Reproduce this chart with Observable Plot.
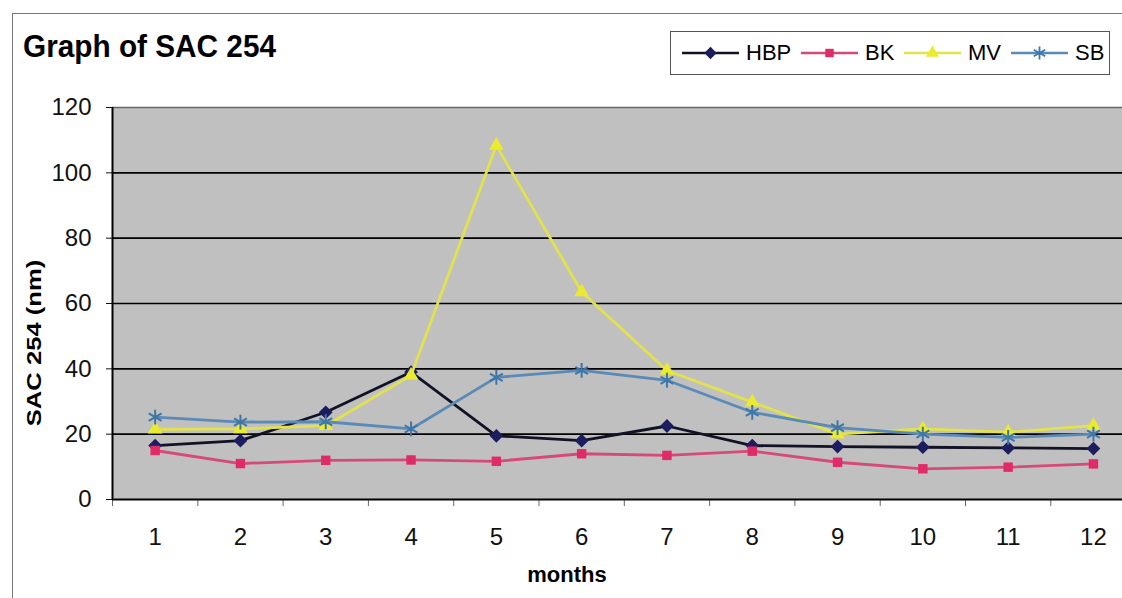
<!DOCTYPE html>
<html>
<head>
<meta charset="utf-8">
<script src="https://cdn.jsdelivr.net/npm/d3@7"></script>
<script src="https://cdn.jsdelivr.net/npm/@observablehq/plot@0.6"></script>
<style>
  html, body { margin: 0; padding: 0; background: #fff; overflow: hidden; }
  #wrap { position: relative; width: 1122px; height: 598px; font-family: "Liberation Sans", Arial, sans-serif; color: #000; }
  #chart { position: absolute; left: 0; top: 0; }
  #border { position: absolute; left: 12px; top: 13px; width: 1200px; height: 700px; border-left: 1.5px solid #777; border-top: 1.5px solid #777; }
  #title { position: absolute; left: 23px; top: 30px; font-size: 32px; line-height: 32px; font-weight: bold; white-space: nowrap; transform: scaleX(0.93); transform-origin: left center; }
  #legend { position: absolute; left: 670px; top: 31px; width: 440px; height: 44px; border: 1.5px solid #555; box-sizing: border-box; background: #fff; }
  .item { position: absolute; top: 0; height: 41px; display: flex; align-items: center; }
  .item span { font-size: 22px; line-height: 22px; margin-left: 7px; }
  #xlabel { position: absolute; left: 467px; width: 200px; text-align: center; top: 564px; font-size: 22px; line-height: 22px; font-weight: bold; }
  #ylabel { position: absolute; left: 34px; top: 343px; font-size: 20px; line-height: 20px; font-weight: bold; white-space: nowrap; transform: translate(-50%, -50%) rotate(-90deg) scaleX(1.28); }
</style>
</head>
<body>
<div id="wrap">
  <div id="border"></div>
  <div id="chart"></div>
  <div id="title">Graph of SAC 254</div>
  <div id="legend"></div>
  <div id="xlabel">months</div>
  <div id="ylabel">SAC 254 (nm)</div>
</div>
<script>
// ---- data ----
const months = [1, 2, 3, 4, 5, 6, 7, 8, 9, 10, 11, 12];
const HBP = [16.5, 18, 26.7, 39, 19.5, 18, 22.5, 16.5, 16.2, 16, 15.8, 15.6];
const BK  = [15, 11, 12, 12.1, 11.7, 14, 13.5, 14.8, 11.4, 9.4, 9.9, 10.9];
const MV  = [21.5, 21.6, 22.6, 38, 108.4, 63.5, 39.5, 29.8, 20, 21.6, 20.6, 22.6];
const SB  = [25.2, 23.7, 23.8, 21.6, 37.4, 39.5, 36.5, 26.7, 22, 20, 19, 20];
const yTicks = [0, 20, 40, 60, 80, 100, 120];
const seriesNames = ["HBP", "BK", "MV", "SB"];

// ---- styles ----
const seriesValues = { HBP, BK, MV, SB };
const styles = {
  HBP: { line: "#121226", marker: "#1c1c5e", symbol: "diamond2", r: 6.2, filled: true },
  BK:  { line: "#d64a78", marker: "#e02a6a", symbol: "square2", r: 6, filled: true },
  MV:  { line: "#e2e24c", marker: "#eaea2e", symbol: "triangle2", r: 7, filled: true },
  SB:  { line: "#5a8ab6", marker: "#3f76a8", symbol: "asterisk", r: 7, filled: false }
};

const rows = seriesNames.flatMap(s => months.map((m, i) => ({ month: m, value: seriesValues[s][i], series: s })));
const boundaries = months.map(m => m - 0.5);

const seriesMarks = seriesNames.flatMap(s => {
  const d = rows.filter(r => r.series === s);
  const st = styles[s];
  return [
    Plot.line(d, { x: "month", y: "value", stroke: st.line, strokeWidth: 2.8 }),
    Plot.dot(d, st.filled
      ? { x: "month", y: "value", symbol: st.symbol, r: st.r, fill: st.marker, stroke: null }
      : { x: "month", y: "value", symbol: st.symbol, r: st.r, fill: "none", stroke: st.marker, strokeWidth: 2 })
  ];
});

const chart = Plot.plot({
  width: 1122,
  height: 598,
  marginTop: 107,
  marginBottom: 99,
  marginLeft: 112,
  marginRight: 0,
  x: { domain: [0.5, 12.5], range: [112, 1135.6] },
  y: { domain: [0, 120] },
  style: { background: "transparent", fontFamily: "Liberation Sans, Arial, sans-serif", color: "#111", overflow: "hidden" },
  marks: [
    Plot.frame({ fill: "#c0c0c0", stroke: null }),
    Plot.ruleY(yTicks.filter(d => d > 0 && d < 120), { stroke: "#000", strokeWidth: 1.7 }),
    Plot.ruleY([120], { stroke: "#666", strokeWidth: 1.5 }),
    Plot.axisY({ ticks: yTicks, tickSize: 6, tickPadding: 15, fontSize: 24, label: null, tickFormat: d => d }),
    Plot.axisX({ ticks: boundaries, tickSize: 7, tickFormat: () => "", label: null, stroke: "#666" }),
    Plot.axisX({ ticks: months, tickSize: 0, tickPadding: 28, fontSize: 24, label: null, tickFormat: d => d }),
    ...seriesMarks,
    Plot.ruleY([0], { stroke: "#000", strokeWidth: 2 }),
    Plot.ruleX([0.5], { stroke: "#000", strokeWidth: 2 })
  ]
});
document.getElementById("chart").appendChild(chart);

// ---- legend ----
const legend = document.getElementById("legend");
const legendLeft = [11, 130, 233, 340]; // offsets inside box
seriesNames.forEach((s, i) => {
  const st = styles[s];
  const item = document.createElement("div");
  item.className = "item";
  item.style.left = legendLeft[i] + "px";
  const sw = d3.create("svg").attr("width", 57).attr("height", 20);
  sw.append("line").attr("x1", 0).attr("x2", 57).attr("y1", 10).attr("y2", 10)
    .attr("stroke", st.line).attr("stroke-width", 2.5);
  const sym = { diamond2: d3.symbolDiamond2, square2: d3.symbolSquare2, triangle2: d3.symbolTriangle2, asterisk: d3.symbolAsterisk }[st.symbol];
  const path = d3.symbol(sym, Math.PI * st.r * st.r * 0.8)();
  const p = sw.append("path").attr("d", path).attr("transform", "translate(28.5,10)");
  if (st.filled) p.attr("fill", st.marker);
  else p.attr("fill", "none").attr("stroke", st.marker).attr("stroke-width", 1.8);
  item.appendChild(sw.node());
  const t = document.createElement("span");
  t.textContent = s;
  item.appendChild(t);
  legend.appendChild(item);
});
</script>
</body>
</html>
